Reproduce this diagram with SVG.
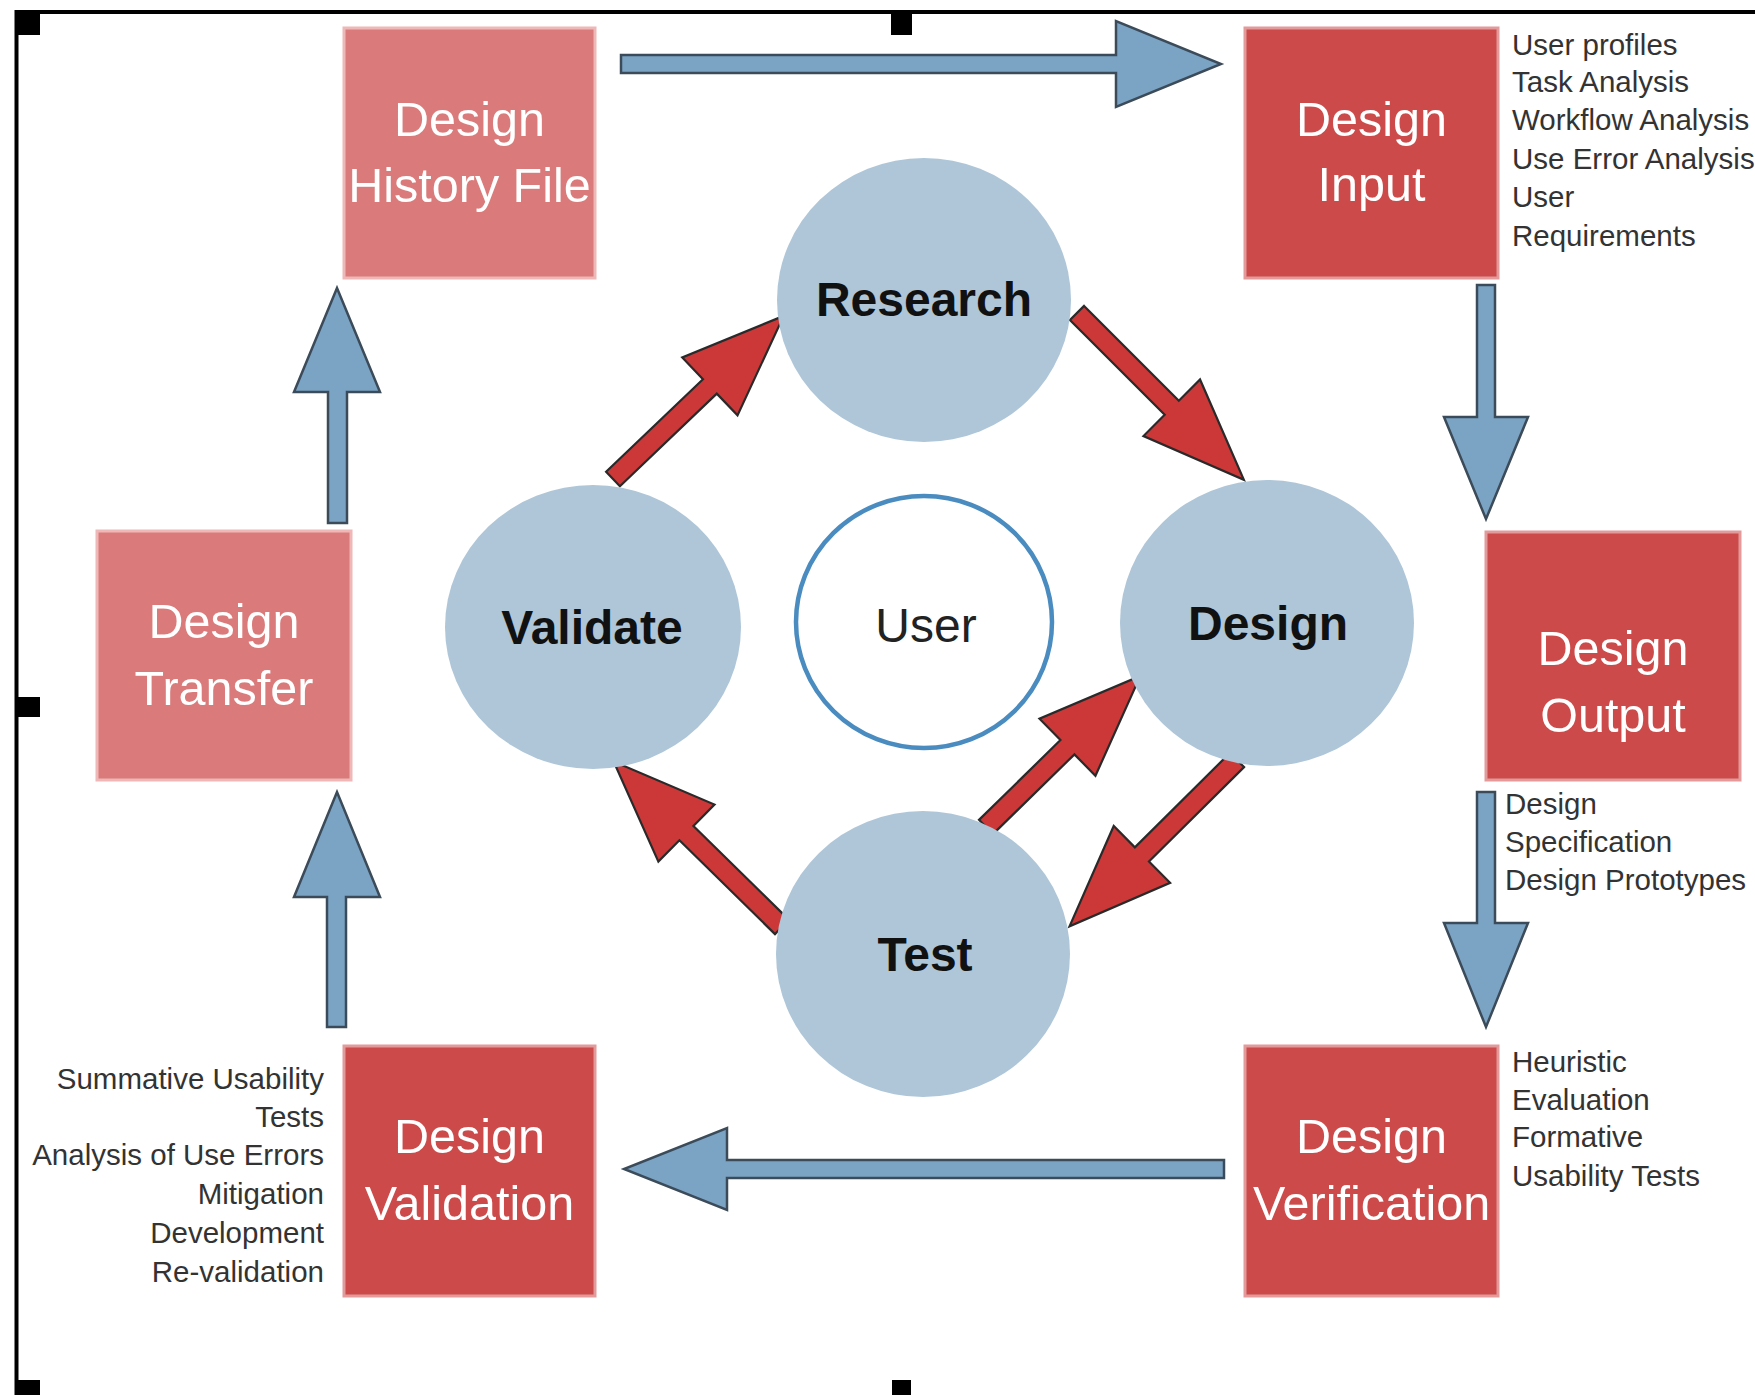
<svg xmlns="http://www.w3.org/2000/svg" xmlns:xlink="http://www.w3.org/1999/xlink" width="1755" height="1395" viewBox="0 0 1755 1395">
  <style>
    .frame { fill: none; stroke: #000; stroke-width: 4; }
    .handle { fill: #000; }
    .box-dark { fill: #CC4A4A; stroke: #E39A9A; stroke-width: 3; }
    .box-light { fill: #DA7A7A; stroke: #EFB8B8; stroke-width: 3; }
    .box-label { font-family: "Liberation Sans", Arial, sans-serif; font-size: 48.5px; fill: #FFFFFF; text-anchor: middle; }
    .phase { fill: #AEC6D8; }
    .phase-label { font-family: "Liberation Sans", Arial, sans-serif; font-size: 48px; font-weight: bold; fill: #111; text-anchor: middle; }
    .user { fill: #FFFFFF; stroke: #4A8CC0; stroke-width: 4.5; }
    .user-label { font-family: "Liberation Sans", Arial, sans-serif; font-size: 48px; fill: #222; text-anchor: middle; }
    .note { font-family: "Liberation Sans", Arial, sans-serif; font-size: 29.5px; fill: #333; }
    .note-r { text-anchor: end; }
    .flow { fill: #7BA3C4; stroke: #3B4B59; stroke-width: 2.5; stroke-linejoin: miter; }
    .cycle { fill: #CC3838; stroke: #2A2A2A; stroke-width: 2.2; stroke-linejoin: miter; }
  </style>
  <defs>
    <!-- red cycle arrow along +x, tail at origin -->
    <path id="cycleLong" d="M0,-10 L134,-10 L134,-40 L236,0 L134,40 L134,10 L0,10 Z"/>
    <path id="cycleShort" d="M0,-10 L114,-10 L114,-40 L216,0 L114,40 L114,10 L0,10 Z"/>
  </defs>

  <rect width="1755" height="1395" fill="#FFFFFF"/>

  <!-- selection frame with handles -->
  <g id="frame">
    <path class="frame" d="M16.5,1395 L16.5,12 L1755,12"/>
    <rect class="handle" x="17" y="12" width="23" height="23"/>
    <rect class="handle" x="891" y="13" width="21" height="22"/>
    <rect class="handle" x="15" y="697" width="25" height="20"/>
    <rect class="handle" x="16" y="1380" width="24" height="15"/>
    <rect class="handle" x="892" y="1380" width="19" height="15"/>
  </g>

  <!-- connectors -->
  <g id="connectors">
    <!-- outer process flow -->
    <polygon class="flow" points="621,55 1116,55 1116,21 1221,64 1116,107 1116,73 621,73"/>
    <polygon class="flow" points="1477,285 1495,285 1495,417 1528,417 1486,519 1444,417 1477,417"/>
    <polygon class="flow" points="1477,792 1495,792 1495,923 1528,923 1486,1027 1444,923 1477,923"/>
    <polygon class="flow" points="1224,1160 1224,1178 727,1178 727,1210 624,1169 727,1128 727,1160"/>
    <polygon class="flow" points="327,1027 346,1027 346,897 380,897 337,792 294,897 327,897"/>
    <polygon class="flow" points="328,523 347,523 347,392 380,392 337,288 294,392 328,392"/>

    <!-- inner user-centred cycle -->
    <use xlink:href="#cycleLong" class="cycle" transform="translate(613,479) rotate(-43.7)"/>
    <use xlink:href="#cycleLong" class="cycle" transform="translate(1077,313) rotate(45)"/>
    <use xlink:href="#cycleLong" class="cycle" transform="translate(1237,760) rotate(135.2)"/>
    <use xlink:href="#cycleShort" class="cycle" transform="translate(986,827) rotate(-44.4)"/>
    <use xlink:href="#cycleLong" class="cycle" transform="translate(782,927) rotate(-135.5)"/>
  </g>

  <!-- process boxes -->
  <g id="design-history-file">
    <rect class="box-light" x="344" y="28" width="251" height="250"/>
    <text class="box-label" x="469.5" y="136">Design</text>
    <text class="box-label" x="469.5" y="202">History File</text>
  </g>

  <g id="design-input">
    <rect class="box-dark" x="1245" y="28" width="253" height="250"/>
    <text class="box-label" x="1371.5" y="136">Design</text>
    <text class="box-label" x="1371.5" y="201">Input</text>
    <text class="note" x="1512" y="55">User profiles</text>
    <text class="note" x="1512" y="92">Task Analysis</text>
    <text class="note" x="1512" y="130">Workflow Analysis</text>
    <text class="note" x="1512" y="169">Use Error Analysis</text>
    <text class="note" x="1512" y="207">User</text>
    <text class="note" x="1512" y="246">Requirements</text>
  </g>

  <g id="design-output">
    <rect class="box-dark" x="1486" y="532" width="254" height="248"/>
    <text class="box-label" x="1613" y="665">Design</text>
    <text class="box-label" x="1613" y="732">Output</text>
    <text class="note" x="1505" y="814">Design</text>
    <text class="note" x="1505" y="852">Specification</text>
    <text class="note" x="1505" y="890">Design Prototypes</text>
  </g>

  <g id="design-verification">
    <rect class="box-dark" x="1245" y="1046" width="253" height="250"/>
    <text class="box-label" x="1371.5" y="1153">Design</text>
    <text class="box-label" x="1371.5" y="1220">Verification</text>
    <text class="note" x="1512" y="1072">Heuristic</text>
    <text class="note" x="1512" y="1110">Evaluation</text>
    <text class="note" x="1512" y="1147">Formative</text>
    <text class="note" x="1512" y="1186">Usability Tests</text>
  </g>

  <g id="design-validation">
    <rect class="box-dark" x="344" y="1046" width="251" height="250"/>
    <text class="box-label" x="469.5" y="1153">Design</text>
    <text class="box-label" x="469.5" y="1220">Validation</text>
    <text class="note note-r" x="324" y="1089">Summative Usability</text>
    <text class="note note-r" x="324" y="1127">Tests</text>
    <text class="note note-r" x="324" y="1165">Analysis of Use Errors</text>
    <text class="note note-r" x="324" y="1204">Mitigation</text>
    <text class="note note-r" x="324" y="1243">Development</text>
    <text class="note note-r" x="324" y="1282">Re-validation</text>
  </g>

  <g id="design-transfer">
    <rect class="box-light" x="97" y="531" width="254" height="249"/>
    <text class="box-label" x="224" y="638">Design</text>
    <text class="box-label" x="224" y="705">Transfer</text>
  </g>

  <!-- cycle phases -->
  <g id="research">
    <ellipse class="phase" cx="924" cy="300" rx="147" ry="142"/>
    <text class="phase-label" x="924" y="316">Research</text>
  </g>

  <g id="validate">
    <ellipse class="phase" cx="593" cy="627" rx="148" ry="142"/>
    <text class="phase-label" x="592" y="644">Validate</text>
  </g>

  <g id="design">
    <ellipse class="phase" cx="1267" cy="623" rx="147" ry="143"/>
    <text class="phase-label" x="1268" y="640">Design</text>
  </g>

  <g id="test">
    <ellipse class="phase" cx="923" cy="954" rx="147" ry="143"/>
    <text class="phase-label" x="925" y="971">Test</text>
  </g>

  <g id="user">
    <ellipse class="user" cx="924" cy="622" rx="128" ry="126"/>
    <text class="user-label" x="926" y="642">User</text>
  </g>
</svg>
